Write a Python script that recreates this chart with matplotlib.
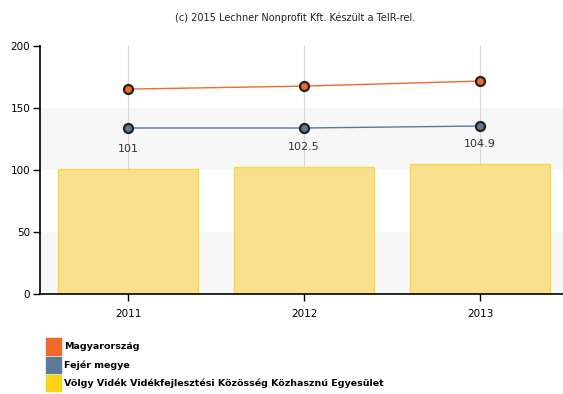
import numpy as np
import matplotlib.pyplot as plt
from matplotlib.patches import Patch

years = ["2011", "2012", "2013"]
magyarorszag = [165.3, 167.7, 171.8]
fejer = [133.9, 133.9, 135.5]
volgy = [101, 102.5, 104.9]
bar_labels = ["101", "102.5", "104.9"]

names = ["Magyarország", "Fejér megye",
         "Völgy Vidék Vidékfejlesztési Közösség Közhasznú Egyesület"]
c_orange = "#ef6b2b"
c_blue = "#5b7a99"
c_yellow = "#fcd116"

fig = plt.figure(figsize=(5.63, 3.94), dpi=100)
ax = fig.add_axes([0.071, 0.254, 0.938, 0.629])

x = np.arange(len(years))

# alternating bands
for lo, hi in [(0, 50), (100, 150)]:
    ax.axhspan(lo, hi, color="#f7f7f8", zorder=0, lw=0)
for xi in x:
    ax.axvline(xi, color="#d8d8d8", lw=0.8, zorder=1)

ax.bar(x, volgy, width=0.8, color="#f8e08e", edgecolor="#f5d84a",
       linewidth=1, zorder=2)
for xi, v, lab in zip(x, volgy, bar_labels):
    ax.text(xi, v + 12, lab, ha="center", va="bottom", fontsize=8,
            color="#333333", zorder=5)

ax.plot(x, magyarorszag, color=c_orange, lw=1, marker="o", ms=6.5,
        mfc=c_orange, mec="#222222", mew=1.6, zorder=4)
ax.plot(x, fejer, color=c_blue, lw=1, marker="o", ms=6.5,
        mfc=c_blue, mec="#222222", mew=1.6, zorder=4)

ax.set_xlim(-0.5, 2.5)
ax.set_ylim(0, 200)
ax.set_xticks(x)
ax.set_xticklabels(years, fontsize=7.5)
ax.set_yticks([0, 50, 100, 150, 200])
ax.tick_params(axis="y", labelsize=7.5, length=5, width=1, pad=2)
ax.tick_params(axis="x", length=5, width=1, pad=6)
for s in ["top", "right"]:
    ax.spines[s].set_visible(False)
ax.spines["left"].set_linewidth(1.2)
ax.spines["bottom"].set_linewidth(1.2)

fig.text(0.525, 0.955, "(c) 2015 Lechner Nonprofit Kft. Készült a TeIR-rel.",
         ha="center", va="center", fontsize=7, color="#222222")

handles = [Patch(color=c) for c in [c_orange, c_blue, c_yellow]]
fig.legend(handles, names, loc="lower left", bbox_to_anchor=(0.07, -0.01),
           frameon=False, prop={"size": 6.8, "weight": "bold"},
           handlelength=1.6, handleheight=2.3,
           handletextpad=0.35, labelspacing=0.2, borderpad=0.2)

fig.savefig("out.png", dpi=100)
